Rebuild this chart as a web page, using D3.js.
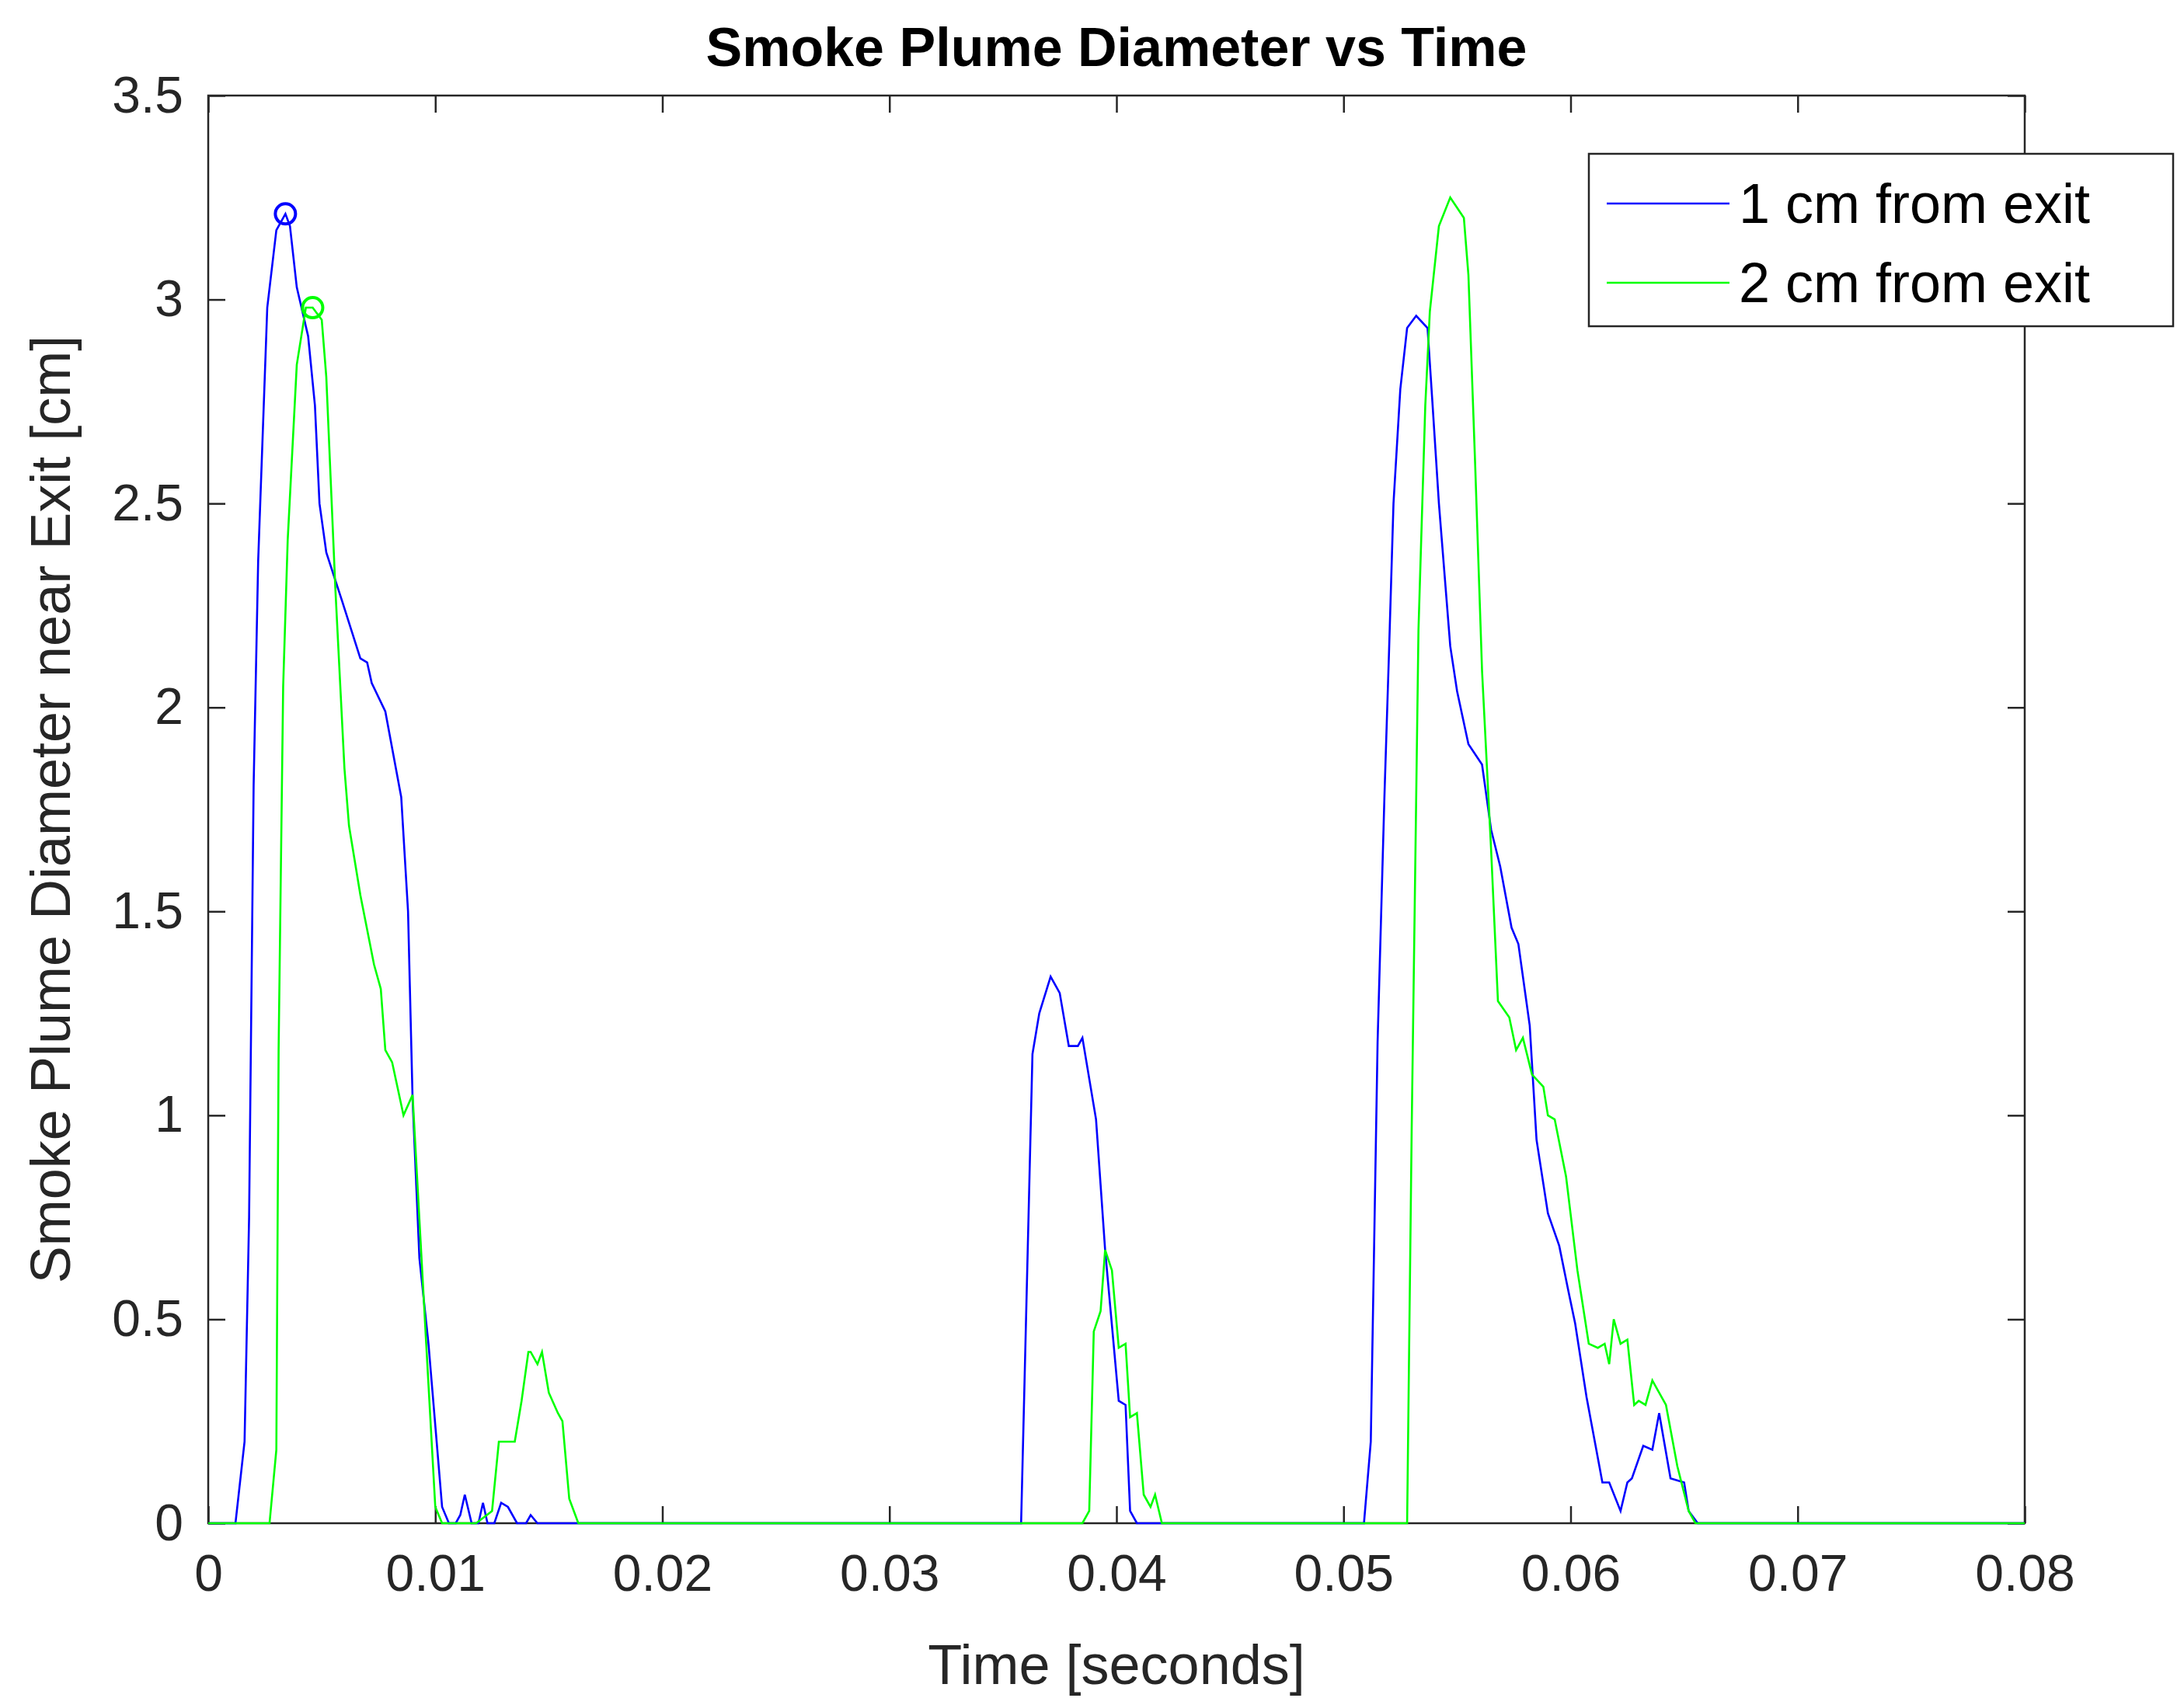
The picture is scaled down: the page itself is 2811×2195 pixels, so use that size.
<!DOCTYPE html>
<html><head><meta charset="utf-8">
<script src="https://cdn.jsdelivr.net/npm/d3@7"></script>
<style>body{margin:0;background:#fff}svg{display:block}text{font-family:"Liberation Sans",Arial,sans-serif;fill:#262626}</style>
</head><body><svg id="c" width="2811" height="2195"></svg>
<script>
const blueX=[0,0.0012,0.0016,0.0018,0.002,0.0022,0.0026,0.003,0.0034,0.0036,0.0039,0.0044,0.0047,0.0049,0.005,0.0052,0.0059,0.0067,0.007,0.0072,0.0078,0.0085,0.0088,0.009,0.0093,0.0097,0.0103,0.0106,0.0109,0.0111,0.0113,0.0116,0.0119,0.0121,0.0123,0.0126,0.0129,0.0132,0.0136,0.014,0.0142,0.0145,0.0165,0.0358,0.0363,0.0366,0.0371,0.0375,0.0379,0.0383,0.0385,0.0391,0.0395,0.0401,0.0404,0.0406,0.0409,0.0509,0.0512,0.0515,0.0518,0.052,0.0522,0.0525,0.0528,0.0532,0.0537,0.0539,0.0542,0.0547,0.055,0.0555,0.0561,0.0565,0.0569,0.0574,0.0577,0.0582,0.0585,0.059,0.0595,0.0599,0.0602,0.0607,0.0614,0.0617,0.0622,0.0625,0.0627,0.0632,0.0636,0.0639,0.0644,0.065,0.0652,0.0656,0.08];
const blueY=[0,0,0.2,0.75,1.81,2.36,2.98,3.17,3.21,3.18,3.03,2.91,2.74,2.5,2.46,2.38,2.26,2.12,2.11,2.06,1.99,1.78,1.5,1.04,0.65,0.44,0.04,0,0,0.02,0.07,0,0,0.05,0,0,0.05,0.04,0,0,0.02,0,0,0,1.15,1.25,1.34,1.3,1.17,1.17,1.19,0.99,0.67,0.3,0.29,0.03,0,0,0.2,1.18,1.78,2.13,2.5,2.78,2.93,2.96,2.93,2.76,2.5,2.15,2.04,1.91,1.86,1.7,1.61,1.46,1.42,1.22,0.94,0.76,0.68,0.57,0.49,0.31,0.1,0.1,0.03,0.1,0.11,0.19,0.18,0.27,0.11,0.1,0.03,0,0];
const greenX=[0,0.0027,0.003,0.0031,0.0033,0.0035,0.0039,0.0043,0.0046,0.005,0.0052,0.0056,0.006,0.0062,0.0067,0.0073,0.0076,0.0078,0.0081,0.0086,0.009,0.0096,0.01,0.0103,0.0118,0.0125,0.0128,0.0135,0.0138,0.0141,0.0142,0.0145,0.0147,0.015,0.0154,0.0156,0.0159,0.0163,0.0385,0.0388,0.039,0.0393,0.0395,0.0398,0.0401,0.0404,0.0406,0.0409,0.0412,0.0415,0.0417,0.042,0.0528,0.053,0.0533,0.0536,0.0538,0.0542,0.0547,0.0553,0.0555,0.0558,0.0561,0.0565,0.0568,0.0573,0.0576,0.0579,0.0583,0.0588,0.059,0.0593,0.0598,0.0603,0.0608,0.0612,0.0615,0.0617,0.0619,0.0622,0.0625,0.0628,0.063,0.0633,0.0636,0.0642,0.0647,0.0652,0.0655,0.08];
const greenY=[0,0,0.18,1.16,2.05,2.41,2.84,2.98,2.98,2.95,2.81,2.29,1.85,1.71,1.54,1.37,1.31,1.16,1.13,1.0,1.05,0.44,0.04,0,0,0.03,0.2,0.2,0.3,0.42,0.42,0.39,0.42,0.32,0.27,0.25,0.06,0,0,0.03,0.47,0.52,0.67,0.62,0.43,0.44,0.26,0.27,0.07,0.04,0.07,0,0,0.96,2.19,2.74,2.97,3.18,3.25,3.2,3.06,2.59,2.09,1.65,1.28,1.24,1.16,1.19,1.1,1.07,1.0,0.99,0.85,0.62,0.44,0.43,0.44,0.39,0.5,0.44,0.45,0.29,0.3,0.29,0.35,0.29,0.14,0.03,0,0];
const peaks=[{x:0.0034,y:3.21,c:"#0000ff"},{x:0.0046,y:2.98,c:"#00ff00"}];
const xTicks=[0,0.01,0.02,0.03,0.04,0.05,0.06,0.07,0.08];
const yTicks=[0,0.5,1,1.5,2,2.5,3,3.5];
const seriesNames=["1 cm from exit","2 cm from exit"];

const L=268,R=2606,T=123,B=1961;
const svg=d3.select("#c");
const x=d3.scaleLinear().domain([0,0.08]).range([L,R]);
const y=d3.scaleLinear().domain([0,3.5]).range([B,T]);
const fmt=d=>String(d);
const tl=22;
svg.append("g").attr("transform",`translate(0,${B})`).call(d3.axisBottom(x).tickValues(xTicks).tickFormat(fmt).tickSizeInner(-tl).tickSizeOuter(0).tickPadding(40))
 .call(g=>{g.select(".domain").remove();g.selectAll("line").attr("stroke","#262626").attr("stroke-width",2.5);g.selectAll("text").attr("font-size",66).attr("dy","0.71em");});
svg.append("g").attr("transform",`translate(0,${T})`).call(d3.axisTop(x).tickValues(xTicks).tickFormat("").tickSizeInner(-tl).tickSizeOuter(0))
 .call(g=>{g.select(".domain").remove();g.selectAll("line").attr("stroke","#262626").attr("stroke-width",2.5);});
svg.append("g").attr("transform",`translate(${L},0)`).call(d3.axisLeft(y).tickValues(yTicks).tickFormat(fmt).tickSizeInner(-tl).tickSizeOuter(0).tickPadding(32))
 .call(g=>{g.select(".domain").remove();g.selectAll("line").attr("stroke","#262626").attr("stroke-width",2.5);g.selectAll("text").attr("font-size",66);});
svg.append("g").attr("transform",`translate(${R},0)`).call(d3.axisRight(y).tickValues(yTicks).tickFormat("").tickSizeInner(-tl).tickSizeOuter(0))
 .call(g=>{g.select(".domain").remove();g.selectAll("line").attr("stroke","#262626").attr("stroke-width",2.5);});
svg.append("rect").attr("x",L).attr("y",T).attr("width",R-L).attr("height",B-T).attr("fill","none").attr("stroke","#262626").attr("stroke-width",2.5);

const line=d3.line().x(d=>x(d[0])).y(d=>y(d[1]));
svg.append("path").datum(blueX.map((v,i)=>[v,blueY[i]])).attr("d",line).attr("fill","none").attr("stroke","#0000ff").attr("stroke-width",2.6);
svg.append("path").datum(greenX.map((v,i)=>[v,greenY[i]])).attr("d",line).attr("fill","none").attr("stroke","#00ff00").attr("stroke-width",2.6);
svg.selectAll(".pk").data(peaks).enter().append("circle").attr("cx",d=>x(d.x)).attr("cy",d=>y(d.y)).attr("r",13).attr("fill","none").attr("stroke",d=>d.c).attr("stroke-width",4);

svg.append("text").attr("x",(L+R)/2).attr("y",85).attr("text-anchor","middle").attr("font-size",70).attr("font-weight","bold").attr("fill","#000").style("fill","#000").text("Smoke Plume Diameter vs Time");
svg.append("text").attr("x",(L+R)/2).attr("y",2168).attr("text-anchor","middle").attr("font-size",72).text("Time [seconds]");
svg.append("text").attr("transform",`translate(90,${(T+B)/2}) rotate(-90)`).attr("text-anchor","middle").attr("font-size",72).text("Smoke Plume Diameter near Exit [cm]");

const lg=svg.append("g");
lg.append("rect").attr("x",2045).attr("y",198).attr("width",752).attr("height",222).attr("fill","#fff").attr("stroke","#262626").attr("stroke-width",2.5);
const cols=["#0000ff","#00ff00"];
seriesNames.forEach((n,i)=>{
  const yy=262+i*102;
  lg.append("line").attr("x1",2068).attr("x2",2226).attr("y1",yy).attr("y2",yy).attr("stroke",cols[i]).attr("stroke-width",2.6);
  lg.append("text").attr("x",2238).attr("y",yy).attr("dy","0.35em").attr("font-size",72).style("fill","#000").text(n);
});
</script></body></html>
